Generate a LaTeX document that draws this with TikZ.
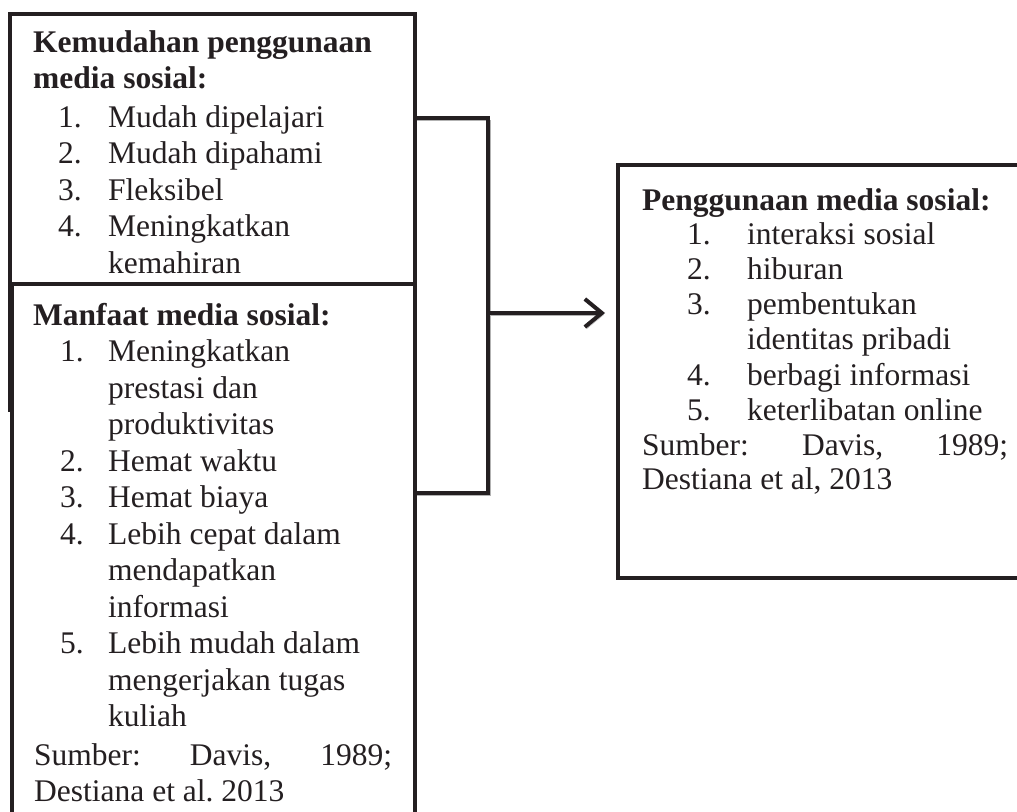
\documentclass[tikz,border=0pt]{standalone}
\usepackage{fontspec}
\setmainfont{Liberation Serif}
\usetikzlibrary{arrows.meta}
\newlength{\du}
\setlength{\du}{1pt}
\frenchspacing
\definecolor{dialinecolor}{rgb}{0.140000, 0.120000, 0.130000}
\definecolor{dialineshadow}{rgb}{0.700000, 0.700000, 0.700000}
\tikzset{
  kotak/.style={draw=dialinecolor, line width=4.5\du, inner sep=0pt, outer sep=0pt, anchor=north west},
  garis/.style={draw=dialinecolor, line width=4\du, preaction={draw=dialineshadow, transform canvas={xshift=1.8\du, yshift=-1.8\du}}},
  teks/.style={anchor=base west, inner sep=0pt, text=dialinecolor, font=\fontsize{31.5}{36.5}\selectfont},
  judul/.style={teks, font=\fontsize{31.5}{36.5}\selectfont\bfseries},
}

\begin{document}
\begin{tikzpicture}
\pgftransformxscale{1.000000}
\pgftransformyscale{-1.000000}
\useasboundingbox (0\du,0\du) rectangle (1017\du,811\du);
% kotak
\node[kotak, minimum width=405\du, minimum height=270\du] (kemudahan) at (10\du,14\du) {};
\node[kotak, minimum width=403\du, minimum height=545\du] (manfaat) at (12\du,284\du) {};
\node[kotak, minimum width=412\du, minimum height=413\du] (penggunaan) at (618\du,165\du) {};
\draw[draw=dialinecolor, line width=5\du] (kemudahan.south west) -- ++(0\du,128\du);
% kurung dan panah
\coordinate (brTop) at (488\du,118\du);
\coordinate (brMid) at (488\du,313\du);
\coordinate (brBot) at (488\du,493\du);
\draw[garis] (kemudahan.east |- brTop) -- (brTop) -- (brBot) -- (manfaat.east |- brBot);
\draw[garis, -{Straight Barb[length=17pt, width=28pt]}, shorten >=13\du] (brMid) -- (penggunaan.west |- brMid);
% setfont left to latex
\node[judul] (kj1) at (33\du,52\du) {Kemudahan penggunaan};
\node[judul] (kj2) at (33\du,88\du) {media sosial:};
\node[teks] (kn1) at (58\du,127\du) {1.};
\node[teks] (kt1) at (108\du,127\du) {Mudah dipelajari};
\node[teks] (kn2) at (58\du,163.5\du) {2.};
\node[teks] (kt2) at (108\du,163.5\du) {Mudah dipahami};
\node[teks] (kn3) at (58\du,200\du) {3.};
\node[teks] (kt3) at (108\du,200\du) {Fleksibel};
\node[teks] (kn4) at (58\du,236.5\du) {4.};
\node[teks] (kt4) at (108\du,236.5\du) {Meningkatkan};
\node[teks] (kt4b) at (108\du,273\du) {kemahiran};
% setfont left to latex
\node[judul] (mj) at (33\du,325\du) {Manfaat media sosial:};
\node[teks] (mn1) at (60\du,361.5\du) {1.};
\node[teks] (mt1) at (108\du,361.5\du) {Meningkatkan};
\node[teks] (mt1b) at (108\du,398\du) {prestasi dan};
\node[teks] (mt1c) at (108\du,434.5\du) {produktivitas};
\node[teks] (mn2) at (60\du,471\du) {2.};
\node[teks] (mt2) at (108\du,471\du) {Hemat waktu};
\node[teks] (mn3) at (60\du,507.5\du) {3.};
\node[teks] (mt3) at (108\du,507.5\du) {Hemat biaya};
\node[teks] (mn4) at (60\du,544\du) {4.};
\node[teks] (mt4) at (108\du,544\du) {Lebih cepat dalam};
\node[teks] (mt4b) at (108\du,580.5\du) {mendapatkan};
\node[teks] (mt4c) at (108\du,617\du) {informasi};
\node[teks] (mn5) at (60\du,653.5\du) {5.};
\node[teks] (mt5) at (108\du,653.5\du) {Lebih mudah dalam};
\node[teks] (mt5b) at (108\du,690\du) {mengerjakan tugas};
\node[teks] (mt5c) at (108\du,726.5\du) {kuliah};
\node[teks] (ms1) at (34\du,765\du) {\makebox[358\du][s]{Sumber: Davis, 1989;}};
\node[teks] (ms2) at (34\du,801\du) {Destiana et al. 2013};
% setfont left to latex
\node[judul] (pj) at (642\du,210\du) {Penggunaan media sosial:};
\node[teks] (pn1) at (687\du,244\du) {1.};
\node[teks] (pt1) at (747\du,244\du) {interaksi sosial};
\node[teks] (pn2) at (687\du,279\du) {2.};
\node[teks] (pt2) at (747\du,279\du) {hiburan};
\node[teks] (pn3) at (687\du,314\du) {3.};
\node[teks] (pt3) at (747\du,314\du) {pembentukan};
\node[teks] (pt3b) at (747\du,349.5\du) {identitas pribadi};
\node[teks] (pn4) at (687\du,385\du) {4.};
\node[teks] (pt4) at (747\du,385\du) {berbagi informasi};
\node[teks] (pn5) at (687\du,420\du) {5.};
\node[teks] (pt5) at (747\du,420\du) {keterlibatan online};
\node[teks] (ps1) at (642\du,455\du) {\makebox[366\du][s]{Sumber: Davis, 1989;}};
\node[teks] (ps2) at (642\du,489\du) {Destiana et al, 2013};
\end{tikzpicture}
\end{document}
